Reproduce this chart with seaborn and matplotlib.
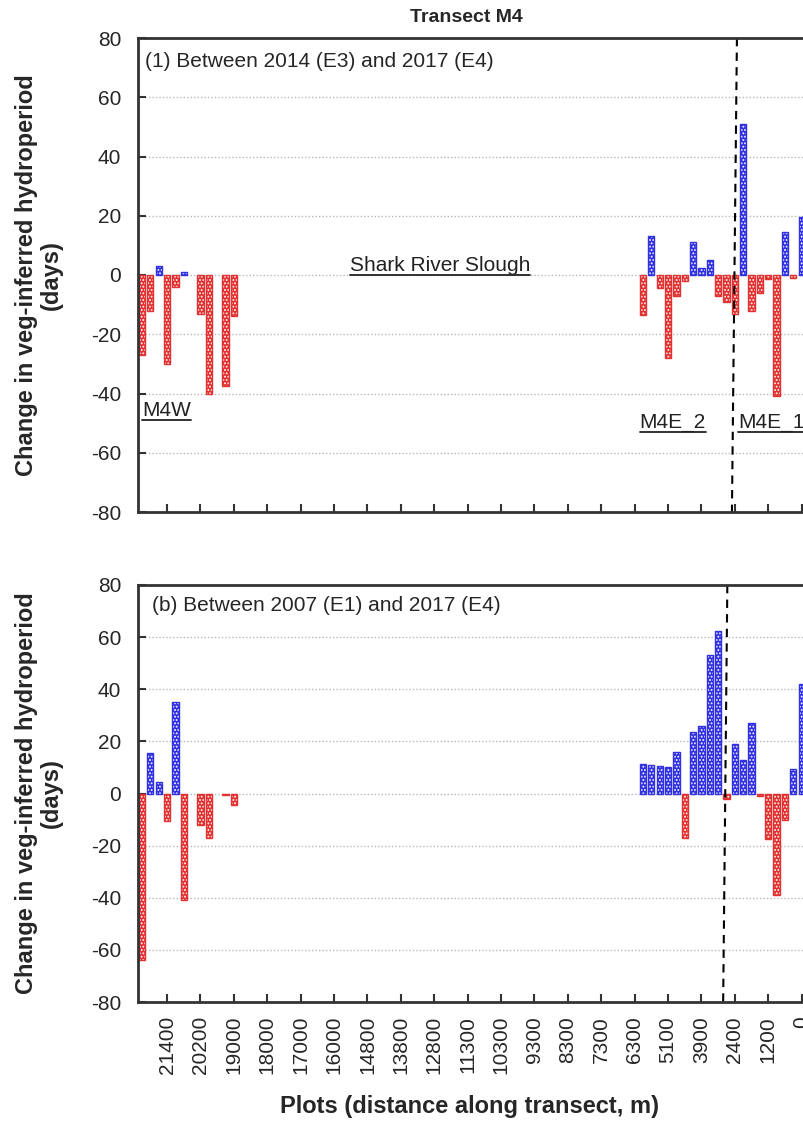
import numpy as np
import pandas as pd
import matplotlib
matplotlib.use("Agg")
import matplotlib.pyplot as plt
from matplotlib.patches import Rectangle
import seaborn as sns

# plot slots (categorical positions along the transect, west -> east)
left_slots = [0, 1, 2, 3, 4, 5, 7, 8, 10, 11]
right_slots = list(range(60, 80))

# (1) change between 2014 (E3) and 2017 (E4)
top_left = [-27, -12, 3, -30, -4, 1, -13, -40, -37.5, -14]
top_right = [-13.5, 13, -4.5, -28, -7, -2, 11, 2.5, 5, -7,
             -9, -13, 51, -12, -6, -1.5, -41, 14.5, -1, 19.5]

# (b) change between 2007 (E1) and 2017 (E4)
bot_left = [-64, 15.5, 4.5, -10.5, 35, -41, -12, -17, -0.5, -4.5]
bot_right = [11.5, 11, 10.5, 10, 16, -17, 23.5, 26, 53, 62.5,
             -2, 19, 13, 27, -1, -17.5, -39, -10, 9.5, 42]

tick_slots = list(range(3, 80, 4))
tick_labels = ["21400", "20200", "19000", "18000", "17000", "16000", "14800",
               "13800", "12800", "11300", "10300", "9300", "8300", "7300",
               "6300", "5100", "3900", "2400", "1200", "0"]

# dashed divider between M4E_2 and M4E_1 (slot at top, slot at bottom of axes)
divider_top = (71.25, 70.65)
divider_bot = (70.1, 69.6)

sns.set_style("ticks")
plt.rcParams['font.family'] = ['Liberation Sans', 'DejaVu Sans']
plt.rcParams['hatch.linewidth'] = 0.9

RED = '#ff1414'
BLUE = '#1414ff'

fig = plt.figure(figsize=(8.04, 11.23), dpi=100)
W, H = 804, 1123
slot_px = 8.35
x0 = 142 - slot_px * 0.5          # left edge of axes (px)
ax_w = slot_px * 81 / W

ax1 = fig.add_axes([x0 / W, 1 - 512 / H, ax_w, (512 - 38) / H])
ax2 = fig.add_axes([x0 / W, 1 - 1002 / H, ax_w, (1002 - 585) / H])


def draw_panel(ax, vals_left, vals_right, label, label_x, divider):
    df = pd.DataFrame({'slot': left_slots + right_slots,
                       'value': vals_left + vals_right})
    df['sign'] = np.where(df['value'] >= 0, 'pos', 'neg')
    sns.barplot(data=df, x='slot', y='value', hue='sign',
                palette={'pos': BLUE, 'neg': RED}, native_scale=True,
                width=0.75, dodge=False, errorbar=None, legend=False, ax=ax)
    for p in list(ax.patches):
        col = p.get_facecolor()
        p.set_edgecolor('white')
        p.set_hatch('.....')
        p.set_linewidth(0)
        ax.add_patch(Rectangle(p.get_xy(), p.get_width(), p.get_height(),
                               fill=False, edgecolor=col, lw=1.0))
    ax.set_xlim(-0.5, 80.5)
    ax.set_ylim(-80, 80)
    ax.set_yticks(range(-80, 81, 20))
    ax.set_yticklabels([str(v) for v in range(-80, 81, 20)], fontsize=15)
    ax.set_xticks(tick_slots)
    ax.set_xlabel('')
    ax.set_ylabel('')
    for y in range(-60, 61, 20):
        ax.axhline(y, color='#b8b8b8', lw=1, ls=(0, (1, 1.5)), zorder=0)
    ax.plot(divider, [80, -80], color='black', lw=1.5, ls=(0, (4, 3)))
    ax.tick_params(axis='both', direction='in', length=6, width=1.5,
                   color='#333333')
    ax.tick_params(axis='y', pad=12)
    for s in ax.spines.values():
        s.set_linewidth(2)
        s.set_color('#333333')
    ax.text(label_x, 0.951, label, transform=ax.transAxes, fontsize=15,
            ha='left', va='center')


draw_panel(ax1, top_left, top_right, '(1) Between 2014 (E3) and 2017 (E4)',
           0.011, divider_top)
draw_panel(ax2, bot_left, bot_right, '(b) Between 2007 (E1) and 2017 (E4)',
           0.021, divider_bot)

ax1.set_xticklabels([])
ax2.set_xticklabels(tick_labels, rotation=90, fontsize=15)
ax2.tick_params(axis='x', pad=10)

# underlined region labels on the upper panel
region_labels = [('Shark River Slough', 35.7, 1.5, 'center'),
                 ('M4W', 0.0, -47.5, 'left'),
                 ('M4E_2', 59.6, -51.4, 'left'),
                 ('M4E_1', 71.4, -51.4, 'left')]
texts = [ax1.text(x, y, s, fontsize=15, ha=ha, va='baseline', color='#222222')
         for s, x, y, ha in region_labels]
fig.canvas.draw()
inv = ax1.transData.inverted()
for t in texts:
    bb = t.get_window_extent()
    (xa, ya), (xb, yb) = inv.transform([(bb.x0, bb.y0), (bb.x1, bb.y0)])
    ax1.plot([xa, xb], [ya, ya], color='#222222', lw=1.3)

fig.text(466 / W, 1 - 18 / H, 'Transect M4', fontsize=14, fontweight='bold',
         ha='center', va='center')
for cy in (275, 793):
    fig.text(39 / W, 1 - cy / H, 'Change in veg-inferred hydroperiod\n(days)',
             fontsize=17, fontweight='bold', rotation=90, ha='center',
             va='center', ma='center', linespacing=1.1)
fig.text(470 / W, 1 - 1106 / H, 'Plots (distance along transect, m)',
         fontsize=17, fontweight='bold', ha='center', va='center')

fig.savefig('out.png', dpi=100)
